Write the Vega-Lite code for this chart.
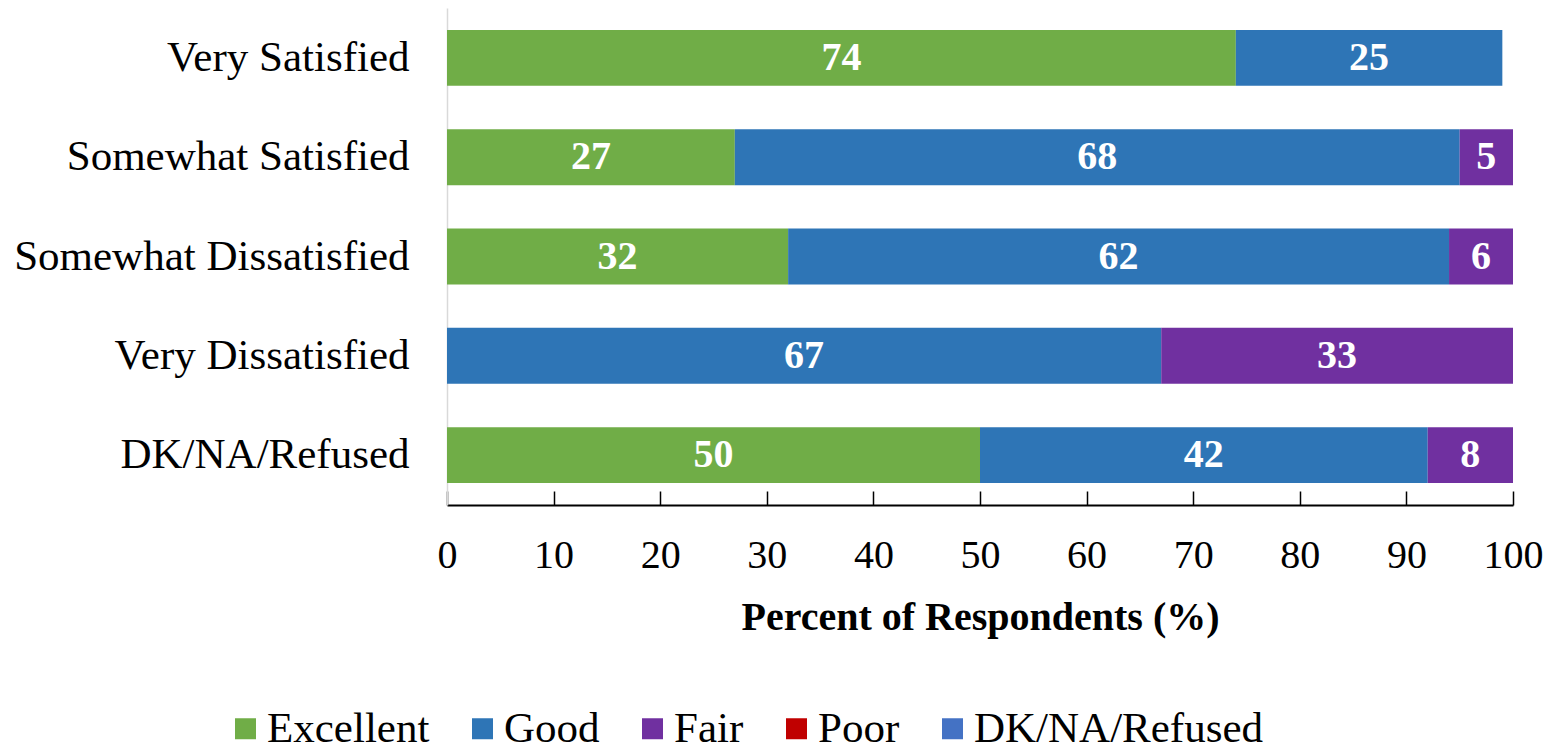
{
  "$schema": "https://vega.github.io/schema/vega-lite/v6.json",
  "width": 1066,
  "height": 497,
  "autosize": {"type": "none"},
  "padding": {"left": 447, "top": 8, "right": 46, "bottom": 247},
  "background": "white",
  "config": {
    "view": {"stroke": null},
    "font": "Liberation Serif"
  },
  "data": {
    "values": [
      {"category": "Very Satisfied", "rating": "Excellent", "order": 1, "value": 74},
      {"category": "Very Satisfied", "rating": "Good", "order": 2, "value": 25},
      {"category": "Somewhat Satisfied", "rating": "Excellent", "order": 1, "value": 27},
      {"category": "Somewhat Satisfied", "rating": "Good", "order": 2, "value": 68},
      {"category": "Somewhat Satisfied", "rating": "Fair", "order": 3, "value": 5},
      {"category": "Somewhat Dissatisfied", "rating": "Excellent", "order": 1, "value": 32},
      {"category": "Somewhat Dissatisfied", "rating": "Good", "order": 2, "value": 62},
      {"category": "Somewhat Dissatisfied", "rating": "Fair", "order": 3, "value": 6},
      {"category": "Very Dissatisfied", "rating": "Good", "order": 2, "value": 67},
      {"category": "Very Dissatisfied", "rating": "Fair", "order": 3, "value": 33},
      {"category": "DK/NA/Refused", "rating": "Excellent", "order": 1, "value": 50},
      {"category": "DK/NA/Refused", "rating": "Good", "order": 2, "value": 42},
      {"category": "DK/NA/Refused", "rating": "Fair", "order": 3, "value": 8}
    ]
  },
  "encoding": {
    "y": {
      "field": "category",
      "type": "nominal",
      "sort": ["Very Satisfied", "Somewhat Satisfied", "Somewhat Dissatisfied", "Very Dissatisfied", "DK/NA/Refused"],
      "scale": {"paddingInner": 0.437, "paddingOuter": 0.221},
      "axis": {
        "title": null,
        "ticks": false,
        "domainColor": "#D9D9D9",
        "domainWidth": 1.5,
        "labelFont": "Liberation Serif",
        "labelFontSize": 43,
        "labelColor": "#000000",
        "labelPadding": 38,
        "labelLimit": 600
      }
    },
    "x": {
      "field": "value",
      "type": "quantitative",
      "stack": "zero",
      "scale": {"domain": [0, 100], "nice": false},
      "axis": {
        "values": [0, 10, 20, 30, 40, 50, 60, 70, 80, 90, 100],
        "grid": false,
        "domainColor": "#000000",
        "domainWidth": 2,
        "tickColor": "#000000",
        "tickWidth": 1.5,
        "tickSize": -14,
        "labelFont": "Liberation Serif",
        "labelFontSize": 40,
        "labelColor": "#000000",
        "labelPadding": 44,
        "labelFlush": false,
        "title": "Percent of Respondents (%)",
        "titleFont": "Liberation Serif",
        "titleFontSize": 40,
        "titleFontWeight": "bold",
        "titleColor": "#000000",
        "titlePadding": 22
      }
    },
    "order": {"field": "order", "type": "quantitative"}
  },
  "layer": [
    {
      "mark": {"type": "bar"},
      "encoding": {
        "color": {
          "field": "rating",
          "type": "nominal",
          "scale": {
            "domain": ["Excellent", "Good", "Fair", "Poor", "DK/NA/Refused"],
            "range": ["#70AD47", "#2E75B6", "#7030A0", "#C00000", "#4472C4"]
          },
          "legend": {
            "title": null,
            "orient": "none",
            "direction": "horizontal",
            "legendX": -223,
            "legendY": 699,
            "symbolType": "square",
            "symbolSize": 441,
            "symbolStrokeWidth": 0,
            "labelFont": "Liberation Serif",
            "labelFontSize": 43,
            "labelColor": "#000000",
            "labelOffset": 0,
            "labelLimit": 600,
            "columnPadding": 31
          }
        }
      }
    },
    {
      "mark": {"type": "text", "color": "white", "font": "Liberation Serif", "fontSize": 40, "fontWeight": "bold", "baseline": "middle", "align": "center"},
      "encoding": {
        "x": {"field": "value", "type": "quantitative", "stack": "zero", "bandPosition": 0.5},
        "detail": {"field": "rating", "type": "nominal"},
        "text": {"field": "value", "type": "quantitative"}
      }
    }
  ]
}
